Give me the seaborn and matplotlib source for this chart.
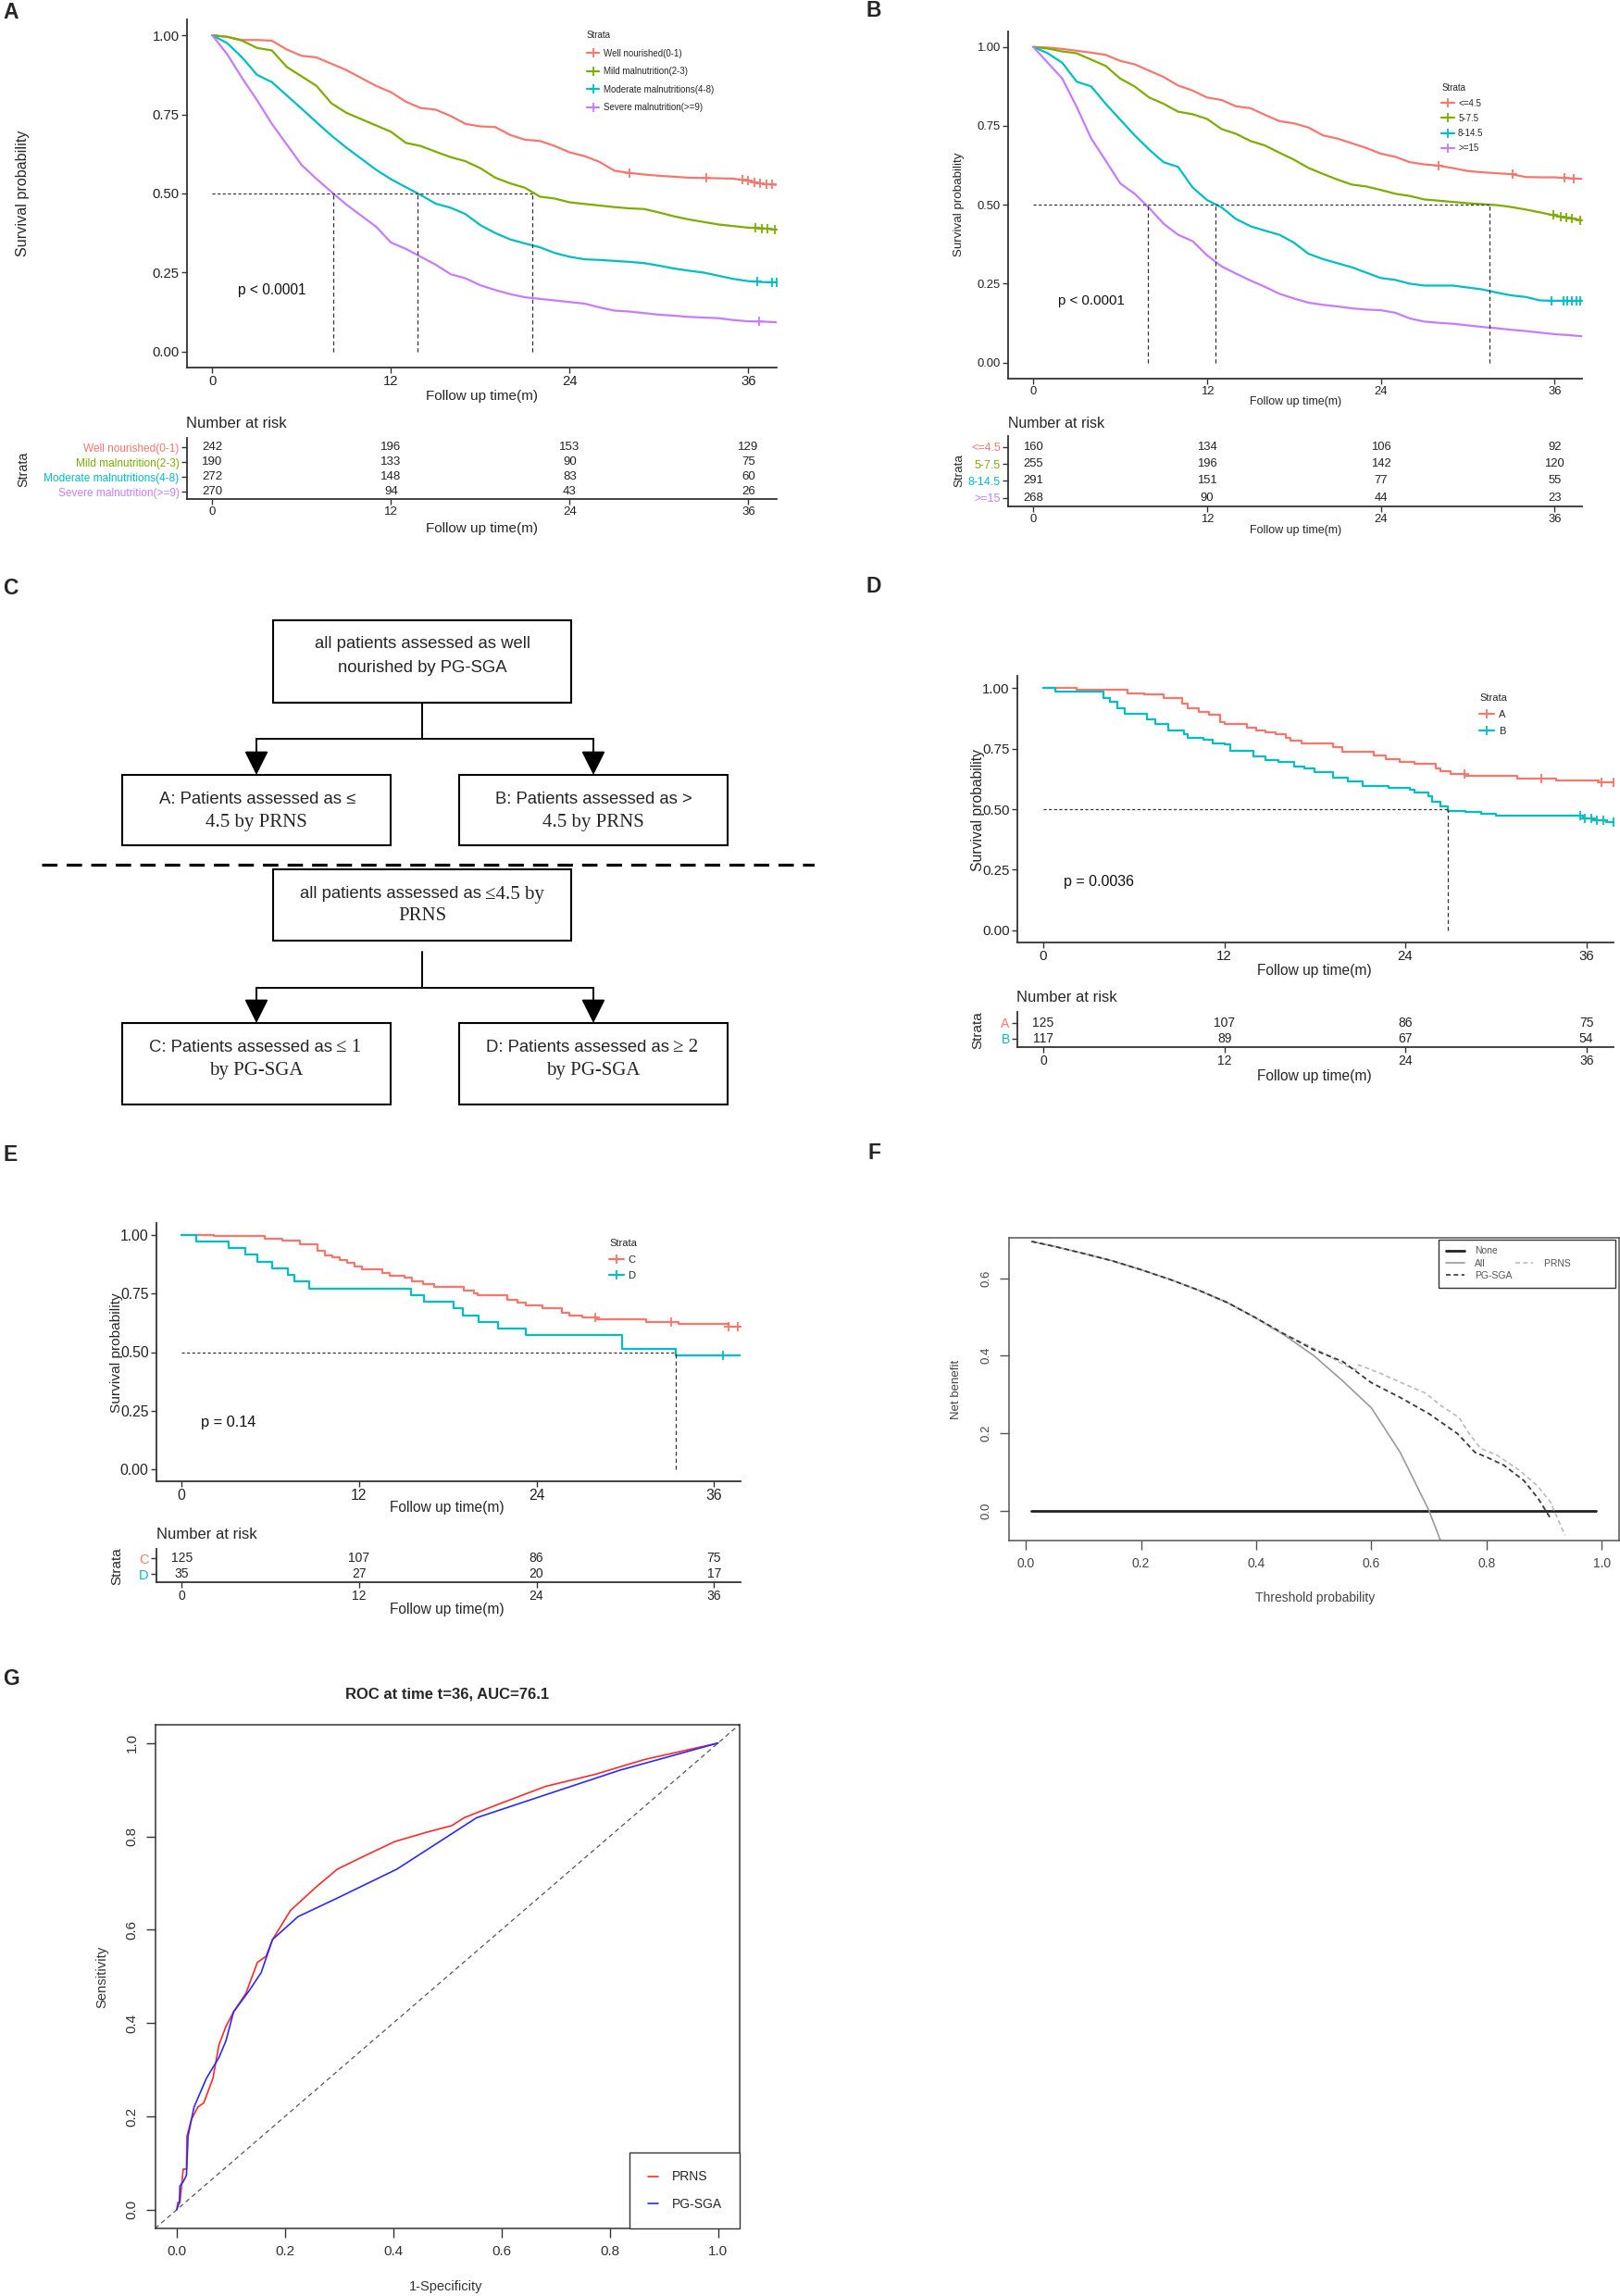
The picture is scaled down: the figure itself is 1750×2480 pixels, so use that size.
import numpy as np
import matplotlib
matplotlib.use('Agg')
import matplotlib.pyplot as plt
import seaborn as sns
from matplotlib.lines import Line2D
from matplotlib.patches import Rectangle

sns.set_style('ticks')
plt.rcParams['font.family'] = ['Liberation Sans', 'DejaVu Sans']
SERIF = ['Liberation Serif', 'DejaVu Serif']

W, H = 1750, 2480

# ---------------- data ----------------
months = np.arange(0, 39)
risk_times = [0, 12, 24, 36]
y_ticks = [0, 0.25, 0.5, 0.75, 1.0]

# A: PG-SGA groups
a_labels = ['Well nourished(0-1)', 'Mild malnutrition(2-3)',
            'Moderate malnutritions(4-8)', 'Severe malnutrition(>=9)']
a_well = [1.0, 0.995, 0.985, 0.985, 0.983, 0.955, 0.935, 0.93, 0.91, 0.89,
          0.865, 0.84, 0.82, 0.79, 0.77, 0.765, 0.745, 0.72, 0.712, 0.71,
          0.685, 0.67, 0.666, 0.65, 0.63, 0.618, 0.6, 0.572, 0.565, 0.56,
          0.556, 0.553, 0.55, 0.549, 0.548, 0.547, 0.54, 0.53, 0.527]
a_mild = [1.0, 0.995, 0.983, 0.96, 0.952, 0.9, 0.87, 0.84, 0.785, 0.755,
          0.735, 0.715, 0.695, 0.66, 0.65, 0.632, 0.615, 0.602, 0.58, 0.55,
          0.532, 0.518, 0.49, 0.484, 0.472, 0.467, 0.462, 0.457, 0.453, 0.451,
          0.44, 0.428, 0.418, 0.41, 0.402, 0.397, 0.392, 0.39, 0.385]
a_mod = [1.0, 0.975, 0.93, 0.875, 0.852, 0.81, 0.768, 0.725, 0.683, 0.645,
         0.61, 0.575, 0.545, 0.52, 0.495, 0.468, 0.455, 0.435, 0.4, 0.375,
         0.355, 0.342, 0.33, 0.312, 0.3, 0.292, 0.29, 0.287, 0.284, 0.28,
         0.272, 0.263, 0.256, 0.25, 0.24, 0.23, 0.223, 0.22, 0.22]
a_sev = [1.0, 0.94, 0.865, 0.795, 0.72, 0.655, 0.59, 0.546, 0.505, 0.465,
         0.43, 0.395, 0.345, 0.325, 0.3, 0.275, 0.245, 0.232, 0.21, 0.195,
         0.182, 0.172, 0.167, 0.162, 0.157, 0.152, 0.14, 0.13, 0.127, 0.122,
         0.117, 0.114, 0.11, 0.108, 0.106, 0.1, 0.096, 0.095, 0.093]
a_medians = [8.1, 13.8, 21.5]
a_censor = [[28.0, 33.2, 35.6, 36.0, 36.4, 36.8, 37.2, 37.6],
            [36.5, 36.9, 37.3, 37.8], [36.6, 37.6, 37.9], [36.7]]
a_risk = [[242, 196, 153, 129], [190, 133, 90, 75], [272, 148, 83, 60], [270, 94, 43, 26]]

# B: PRNS groups
b_labels = ['<=4.5', '5-7.5', '8-14.5', '>=15']
b_g1 = [1.0, 0.998, 0.994, 0.988, 0.982, 0.975, 0.956, 0.945, 0.925, 0.905,
        0.878, 0.862, 0.84, 0.832, 0.812, 0.806, 0.785, 0.765, 0.758, 0.745,
        0.72, 0.71, 0.695, 0.68, 0.662, 0.652, 0.635, 0.628, 0.624, 0.616,
        0.607, 0.603, 0.6, 0.597, 0.588, 0.587, 0.587, 0.584, 0.582]
b_g2 = [1.0, 0.995, 0.986, 0.98, 0.96, 0.94, 0.9, 0.875, 0.84, 0.82,
        0.795, 0.787, 0.772, 0.74, 0.725, 0.702, 0.688, 0.665, 0.643, 0.617,
        0.598, 0.58, 0.564, 0.558, 0.547, 0.535, 0.528, 0.517, 0.513, 0.509,
        0.505, 0.502, 0.499, 0.493, 0.485, 0.476, 0.466, 0.458, 0.45]
b_g3 = [1.0, 0.98, 0.95, 0.89, 0.875, 0.82, 0.77, 0.72, 0.675, 0.635,
        0.62, 0.555, 0.515, 0.492, 0.455, 0.432, 0.418, 0.405, 0.38, 0.345,
        0.328, 0.315, 0.302, 0.285, 0.268, 0.262, 0.25, 0.244, 0.244, 0.244,
        0.238, 0.232, 0.222, 0.213, 0.208, 0.197, 0.196, 0.196, 0.196]
b_g4 = [1.0, 0.95, 0.9, 0.81, 0.71, 0.64, 0.568, 0.535, 0.49, 0.44,
        0.405, 0.385, 0.34, 0.305, 0.282, 0.26, 0.24, 0.218, 0.203, 0.19,
        0.183, 0.178, 0.172, 0.168, 0.166, 0.158, 0.14, 0.13, 0.126, 0.123,
        0.118, 0.113, 0.109, 0.104, 0.1, 0.095, 0.09, 0.087, 0.083]
b_medians = [7.9, 12.6, 31.5]
b_censor = [[28.0, 33.1, 36.7, 37.3], [35.9, 36.4, 36.8, 37.2, 37.8],
            [35.8, 36.6, 36.9, 37.2, 37.5, 37.8], []]
b_risk = [[160, 134, 106, 92], [255, 196, 142, 120], [291, 151, 77, 55], [268, 90, 44, 23]]

# D: A vs B
d_labels = ['A', 'B']
d_a_t = [0, 2.2, 5.6, 6.7, 8.0, 9.2, 9.6, 10.3, 11.0, 11.7, 12.0, 13.5, 14.1, 14.7, 15.4, 16.1,
         16.4, 17.1, 19.2, 19.8, 21.9, 22.7, 23.6, 24.6, 26.0, 26.3, 27.0, 28.0, 31.4, 34.0, 36.8, 37.9]
d_a_s = [1.0, 0.993, 0.979, 0.972, 0.957, 0.936, 0.915, 0.9, 0.889, 0.858, 0.851, 0.837, 0.823,
         0.816, 0.809, 0.794, 0.783, 0.773, 0.755, 0.738, 0.723, 0.706, 0.695, 0.688, 0.667, 0.655,
         0.645, 0.638, 0.627, 0.62, 0.61, 0.61]
d_b_t = [0, 0.8, 4.0, 4.4, 4.9, 5.4, 6.9, 7.4, 8.3, 9.3, 9.6, 10.6, 11.2, 12.0, 12.4, 13.9, 14.7,
         15.6, 16.6, 17.3, 18.0, 19.2, 20.2, 21.2, 22.9, 24.3, 24.6, 25.5, 25.8, 26.3, 26.8, 28.0,
         29.0, 30.0, 35.8, 36.5, 37.3, 37.9]
d_b_s = [1.0, 0.986, 0.957, 0.943, 0.915, 0.894, 0.872, 0.851, 0.826, 0.811, 0.794, 0.787, 0.773,
         0.766, 0.74, 0.716, 0.702, 0.695, 0.674, 0.667, 0.652, 0.631, 0.613, 0.596, 0.589, 0.582,
         0.567, 0.553, 0.532, 0.51, 0.494, 0.489, 0.482, 0.472, 0.461, 0.454, 0.447, 0.447]
d_medians = [26.8]
d_censor = [[27.9, 33.0, 37.0, 37.8], [35.6, 35.9, 36.3, 36.7, 37.1, 37.8]]
d_risk = [[125, 107, 86, 75], [117, 89, 67, 54]]

# E: C vs D
e_labels = ['C', 'D']
e_c_t = [0, 2.2, 5.6, 6.8, 8.0, 9.2, 9.7, 10.2, 10.7, 11.2, 11.7, 12.2, 13.6, 14.1, 15.1, 15.6,
         16.3, 17.1, 19.1, 19.8, 20.0, 22.0, 22.7, 23.3, 24.4, 25.7, 26.2, 27.1, 28.1, 31.4, 33.6,
         37.0, 37.9]
e_c_s = [1.0, 0.993, 0.982, 0.974, 0.958, 0.932, 0.912, 0.903, 0.892, 0.879, 0.866, 0.853, 0.837,
         0.824, 0.816, 0.803, 0.791, 0.777, 0.761, 0.751, 0.741, 0.724, 0.709, 0.698, 0.686, 0.669,
         0.656, 0.646, 0.639, 0.627, 0.619, 0.61, 0.606]
e_d_t = [0, 1.0, 3.2, 4.3, 5.1, 6.1, 7.2, 7.6, 8.6, 15.5, 16.4, 18.4, 19.0, 20.1, 21.4, 23.3,
         29.8, 33.4, 37.9]
e_d_s = [1.0, 0.971, 0.943, 0.914, 0.886, 0.857, 0.829, 0.8, 0.771, 0.743, 0.714, 0.686, 0.657,
         0.629, 0.6, 0.571, 0.514, 0.486, 0.486]
e_medians = [33.4]
e_censor = [[28.0, 33.1, 37.0, 37.6], [36.6]]
e_risk = [[125, 107, 86, 75], [35, 27, 20, 17]]

# F: decision curve
dca_none_x = [0.01, 0.99]
dca_none_nb = [0.0, 0.0]
dca_all_x = [0.01, 0.05, 0.1, 0.15, 0.2, 0.25, 0.3, 0.35, 0.4, 0.45, 0.5, 0.55, 0.6, 0.65, 0.7, 0.72]
dca_all_nb = [0.695, 0.682, 0.664, 0.645, 0.622, 0.597, 0.569, 0.537, 0.497, 0.452, 0.4, 0.335,
              0.265, 0.15, 0.0, -0.078]
dca_pgsga_x = [0.01, 0.05, 0.1, 0.15, 0.2, 0.25, 0.3, 0.35, 0.4, 0.45, 0.5, 0.55, 0.6, 0.65,
               0.7, 0.75, 0.78, 0.8, 0.83, 0.865, 0.89, 0.91]
dca_pgsga_nb = [0.695, 0.682, 0.664, 0.645, 0.622, 0.597, 0.569, 0.537, 0.497, 0.455, 0.415,
                0.385, 0.33, 0.292, 0.25, 0.198, 0.15, 0.138, 0.117, 0.077, 0.03, -0.018]
dca_prns_x = [0.01, 0.05, 0.1, 0.15, 0.2, 0.25, 0.3, 0.35, 0.4, 0.43, 0.474, 0.519, 0.555, 0.573,
              0.578, 0.613, 0.649, 0.694, 0.72, 0.752, 0.77, 0.79, 0.817, 0.857, 0.888, 0.91, 0.936]
dca_prns_nb = [0.695, 0.682, 0.664, 0.645, 0.622, 0.597, 0.569, 0.537, 0.497, 0.468, 0.438, 0.405,
               0.374, 0.364, 0.376, 0.356, 0.332, 0.303, 0.272, 0.24, 0.198, 0.16, 0.144, 0.104,
               0.064, 0.024, -0.064]

# G: time-dependent ROC
roc_fpr_prns = [0, 0.002, 0.006, 0.009, 0.012, 0.018, 0.019, 0.027, 0.039, 0.05, 0.067, 0.078,
                0.091, 0.105, 0.128, 0.149, 0.165, 0.177, 0.21, 0.256, 0.297, 0.352, 0.403, 0.462,
                0.508, 0.531, 0.59, 0.681, 0.773, 0.865, 1.0]
roc_tpr_prns = [0, 0.016, 0.016, 0.051, 0.087, 0.087, 0.158, 0.193, 0.22, 0.229, 0.282, 0.353,
                0.393, 0.424, 0.464, 0.53, 0.543, 0.579, 0.641, 0.69, 0.73, 0.761, 0.789, 0.809,
                0.823, 0.84, 0.867, 0.907, 0.933, 0.965, 1.0]
roc_fpr_pgsga = [0, 0.005, 0.006, 0.012, 0.018, 0.021, 0.032, 0.055, 0.078, 0.091, 0.105, 0.133,
                 0.156, 0.177, 0.224, 0.297, 0.407, 0.554, 0.681, 0.819, 1.0]
roc_tpr_pgsga = [0, 0.016, 0.051, 0.06, 0.074, 0.158, 0.22, 0.282, 0.326, 0.362, 0.424, 0.468,
                 0.508, 0.579, 0.628, 0.668, 0.73, 0.84, 0.889, 0.942, 1.0]

HUE4 = ['#F8766D', '#7CAE00', '#00BFC4', '#C77CFF']
HUE2 = ['#F8766D', '#00BFC4']
INK = '#333333'

fig = plt.figure(figsize=(W / 100, H / 100), dpi=100)


def px_axes(x0, y0, x1, y1):
    return fig.add_axes([x0 / W, 1 - y1 / H, (x1 - x0) / W, (y1 - y0) / H])


def ftext(x, y, s, **kw):
    kw.setdefault('ha', 'center')
    kw.setdefault('va', 'center')
    fig.text(x / W, 1 - y / H, s, **kw)


def km_curves(ax, times, curves, colors, censors, steps):
    for t, s, c, cens in zip(times, curves, colors, censors):
        t = np.asarray(t, float)
        s = np.asarray(s, float)
        sns.lineplot(x=t, y=s, color=c, lw=1.6, estimator=None, sort=False, ax=ax,
                     drawstyle='steps-post' if steps else 'default')
        if len(cens):
            cens = np.asarray(cens, float)
            if steps:
                cy = s[np.searchsorted(t, cens, side='right') - 1]
            else:
                cy = np.interp(cens, t, s)
            ax.plot(cens, cy, ls='none', marker='+', ms=7, mew=1.3, color=c)


def median_lines(ax, medians):
    ax.hlines(0.5, 0, max(medians), colors=INK, lw=0.9, linestyles=(0, (2.5, 2)))
    ax.vlines(medians, 0, 0.5, colors=INK, lw=0.9, linestyles=(0, (3.5, 2.5)))


def style_km(ax, xlim, fs):
    ax.set_xlim(*xlim)
    ax.set_ylim(-0.05, 1.05)
    ax.set_xticks(risk_times)
    ax.set_yticks(y_ticks)
    ax.set_yticklabels([f'{v:.2f}' for v in y_ticks])
    sns.despine(ax=ax)
    for sp in ('left', 'bottom'):
        ax.spines[sp].set_color(INK)
        ax.spines[sp].set_linewidth(1.3)
    ax.tick_params(direction='out', length=4, width=1, color=INK, labelsize=fs,
                   labelcolor='#222222', pad=2)
    ax.set_xlabel('')
    ax.set_ylabel('')


def km_legend(ax, labels, colors, x, y, fs, pitch):
    fs_px = fs * 100 / 72
    hs = [Line2D([], [], color=c, lw=1.6, marker='+', ms=7, mew=1.3) for c in colors]
    leg = ax.legend(hs, labels, title='Strata', loc='upper left', bbox_to_anchor=(x, y),
                    frameon=False, fontsize=fs, title_fontsize=fs, handlelength=1.4,
                    handletextpad=0.45, labelspacing=pitch / fs_px - 1, borderpad=0,
                    borderaxespad=0)
    leg._legend_box.align = 'left'


def risk_table(ax, labels, colors, risk, xlim, ylim, fs_num, fs_lab):
    ax.set_xlim(*xlim)
    ax.set_ylim(*ylim)
    for i, row in enumerate(risk):
        for tm, n in zip(risk_times, row):
            ax.text(tm, i, str(n), ha='center', va='center', fontsize=fs_num, color='#222222')
    ax.set_xticks(risk_times)
    ax.set_yticks(range(len(labels)))
    ax.set_yticklabels(labels)
    for tl, c in zip(ax.get_yticklabels(), colors):
        tl.set_color(c)
    sns.despine(ax=ax)
    for sp in ('left', 'bottom'):
        ax.spines[sp].set_color(INK)
        ax.spines[sp].set_linewidth(1.3)
    ax.tick_params(direction='out', length=4, width=1, color=INK, pad=2)
    ax.tick_params(axis='x', labelsize=fs_num, labelcolor='#222222')
    ax.tick_params(axis='y', labelsize=fs_lab)


def km_panel(main_box, risk_box, xlim, risk_ylim, times, curves, colors, censors, steps,
             medians, labels, risk, pval, pxy, leg_xy, fs):
    ax = px_axes(*main_box)
    km_curves(ax, times, curves, colors, censors, steps)
    median_lines(ax, medians)
    style_km(ax, xlim, fs['tick'])
    ax.text(pxy[0], pxy[1], pval, ha='left', va='center', fontsize=fs['p'], color='#111111')
    km_legend(ax, labels, colors, leg_xy[0], leg_xy[1], fs['leg'], fs['pitch'])
    axr = px_axes(*risk_box)
    risk_table(axr, labels, colors, risk, xlim, risk_ylim, fs['num'], fs['row'])
    return ax, axr


# ---------------- A ----------------
fsA = dict(tick=10.7, p=11.2, leg=7, pitch=19.3, num=9.5, row=8.6)
km_panel((202, 21, 839, 397), (202, 472.7, 839, 539), (-1.7, 37.9), (3.5, -0.67),
         [months] * 4, [a_well, a_mild, a_mod, a_sev], HUE4, a_censor, False,
         a_medians, a_labels, a_risk, 'p < 0.0001', (1.7, 0.195), (0.678, 0.968), fsA)
ftext(25, 209, 'Survival probability', rotation=90, fontsize=11.6)
ftext(521, 428, 'Follow up time(m)', fontsize=11)
ftext(201, 457, 'Number at risk', ha='left', fontsize=12)
ftext(521, 571, 'Follow up time(m)', fontsize=11)
ftext(25, 507, 'Strata', rotation=90, fontsize=10.3)

# ---------------- B ----------------
fsB = dict(tick=9.4, p=10.8, leg=7, pitch=16, num=9.4, row=9)
km_panel((1089, 33.7, 1709, 408.7), (1089, 470.7, 1709, 546.7), (-1.74, 37.9), (3.49, -0.66),
         [months] * 4, [b_g1, b_g2, b_g3, b_g4], HUE4, b_censor, False,
         b_medians, b_labels, b_risk, 'p < 0.0001', (1.7, 0.195), (0.755, 0.849), fsB)
ftext(1036, 221, 'Survival probability', rotation=90, fontsize=9.6)
ftext(1400, 434, 'Follow up time(m)', fontsize=9)
ftext(1089, 458, 'Number at risk', ha='left', fontsize=11.5)
ftext(1400, 573, 'Follow up time(m)', fontsize=9)
ftext(1036, 508, 'Strata', rotation=90, fontsize=9.6)

# ---------------- D ----------------
fsD = dict(tick=10.8, p=11.5, leg=8, pitch=19.2, num=10, row=10)
km_panel((1099, 730, 1743, 1018), (1099, 1093, 1743, 1131), (-1.72, 37.8), (1.53, -0.7),
         [d_a_t, d_b_t], [d_a_s, d_b_s], HUE2, d_censor, True,
         d_medians, d_labels, d_risk, 'p = 0.0036', (1.35, 0.2), (0.775, 0.935), fsD)
ftext(1056, 875, 'Survival probability', rotation=90, fontsize=11.3)
ftext(1420, 1048, 'Follow up time(m)', fontsize=11.2)
ftext(1098, 1078, 'Number at risk', ha='left', fontsize=12)
ftext(1420, 1162, 'Follow up time(m)', fontsize=11.2)
ftext(1056, 1113, 'Strata', rotation=90, fontsize=11)

# ---------------- E ----------------
fsE = dict(tick=11.3, p=11.8, leg=8, pitch=18.6, num=10, row=10.5)
km_panel((169, 1321, 800, 1600), (169, 1673, 800, 1709), (-1.7, 37.8), (1.53, -0.59),
         [e_c_t, e_d_t], [e_c_s, e_d_s], HUE2, e_censor, True,
         e_medians, e_labels, e_risk, 'p = 0.14', (1.3, 0.2), (0.775, 0.939), fsE)
ftext(126, 1461, 'Survival probability', rotation=90, fontsize=11.1)
ftext(483, 1629, 'Follow up time(m)', fontsize=11.2)
ftext(169, 1657, 'Number at risk', ha='left', fontsize=12)
ftext(483, 1739, 'Follow up time(m)', fontsize=11.2)
ftext(126, 1692, 'Strata', rotation=90, fontsize=11)

# ---------------- C (flowchart) ----------------
axc = px_axes(0, 610, 880, 1210)
axc.set_xlim(0, 880)
axc.set_ylim(1210, 610)
axc.axis('off')
flow_boxes = [(295, 670, 617, 759), (132, 837, 422, 913), (496, 837, 786, 913),
              (295, 939, 617, 1016), (132, 1105, 422, 1193), (496, 1105, 786, 1193)]
for x0, y0, x1, y1 in flow_boxes:
    axc.add_patch(Rectangle((x0, y0), x1 - x0, y1 - y0, fill=False, ec='black', lw=1.5))
for ytop, ybar, ytip in [(759, 798, 837), (1028, 1067, 1105)]:
    axc.plot([456, 456], [ytop, ybar], color='black', lw=1.4)
    axc.plot([277, 641], [ybar, ybar], color='black', lw=1.4)
    for xa in (277, 641):
        axc.annotate('', xy=(xa, ytip), xytext=(xa, ybar),
                     arrowprops=dict(arrowstyle='-|>,head_length=0.4,head_width=0.2',
                                     mutation_scale=40, lw=1.4, color='black',
                                     shrinkA=0, shrinkB=0))
axc.plot([45, 880], [934, 934], color='black', lw=2.3, ls=(0, (5.2, 3.1)))

sans_c = dict(fontsize=13.3, va='center')
serif_c = dict(family=SERIF, fontsize=15, va='center')
axc.text(456, 696, 'all patients assessed as well', ha='center', **sans_c)
axc.text(456, 721, 'nourished by PG-SGA', ha='center', **sans_c)
axc.text(278, 864, 'A: Patients assessed as \u2264', ha='center', **sans_c)
axc.text(277, 888, '4.5 by PRNS', ha='center', **serif_c)
axc.text(641, 864, 'B: Patients assessed as >', ha='center', **sans_c)
axc.text(641, 888, '4.5 by PRNS', ha='center', **serif_c)
axc.text(520, 966, 'all patients assessed as', ha='right', **sans_c)
axc.text(524, 966, '\u22644.5 by', ha='left', **serif_c)
axc.text(456, 990, 'PRNS', ha='center', **serif_c)
axc.text(359, 1132, 'C: Patients assessed as', ha='right', **sans_c)
axc.text(363, 1132, '\u2264 1', ha='left', **serif_c)
axc.text(277, 1157, 'by PG-SGA', ha='center', **serif_c)
axc.text(723, 1132, 'D: Patients assessed as', ha='right', **sans_c)
axc.text(727, 1132, '\u2265 2', ha='left', **serif_c)
axc.text(641, 1157, 'by PG-SGA', ha='center', **serif_c)

# ---------------- F (decision curve) ----------------
axf = px_axes(1089.5, 1337, 1749, 1664)
sns.lineplot(x=dca_none_x, y=dca_none_nb, color='#222222', lw=2, estimator=None, sort=False, ax=axf)
sns.lineplot(x=dca_all_x, y=dca_all_nb, color='#9a9a9a', lw=1.2, estimator=None, sort=False, ax=axf)
sns.lineplot(x=dca_prns_x, y=dca_prns_nb, color='#bbbbbb', lw=1.2, linestyle=(0, (3, 2)),
             estimator=None, sort=False, ax=axf)
sns.lineplot(x=dca_pgsga_x, y=dca_pgsga_nb, color='#3a3a3a', lw=1.3, linestyle=(0, (3, 2)),
             estimator=None, sort=False, ax=axf)
axf.set_xlim(-0.03, 1.03)
axf.set_ylim(-0.0775, 0.7044)
f_xt = np.arange(0, 1.01, 0.2)
axf.set_xticks(f_xt)
axf.set_xticklabels([f'{v:.1f}' for v in f_xt])
axf.set_yticks([0, 0.2, 0.4, 0.6])
axf.set_yticklabels(['0.0', '0.2', '0.4', '0.6'])
for sp in axf.spines.values():
    sp.set_visible(True)
    sp.set_color('#555555')
    sp.set_linewidth(1.1)
axf.tick_params(direction='out', length=7, width=1, color='#555555', labelsize=10,
                labelcolor='#444444', pad=6)
for tl in axf.get_yticklabels():
    tl.set_rotation(90)
    tl.set_va('center')
    tl.set_fontsize(9.5)
axf.set_xlabel('')
axf.set_ylabel('')
blank = Line2D([], [], alpha=0)
f_handles = [Line2D([], [], color='#222222', lw=2), Line2D([], [], color='#9a9a9a', lw=1.2),
             Line2D([], [], color='#3a3a3a', lw=1.2, ls=(0, (3, 2))), blank,
             Line2D([], [], color='#bbbbbb', lw=1.2, ls=(0, (3, 2))), blank]
axf.legend(f_handles, ['None', 'All', 'PG-SGA', '', 'PRNS' + ' ' * 14, ''], ncol=2,
           loc='upper left', bbox_to_anchor=((1554 - 1089.5) / 659.5, 0.995), borderaxespad=0,
           frameon=True, fancybox=False, edgecolor='#333333', framealpha=1, fontsize=7.5,
           labelcolor='#555555', handlelength=1.9, handletextpad=1.1, labelspacing=0.3,
           columnspacing=0.3, borderpad=0.75)
ftext(1421, 1726, 'Threshold probability', fontsize=10, color='#444444')
ftext(1033, 1501, 'Net benefit', rotation=90, fontsize=9.5, color='#444444')

# ---------------- G (ROC) ----------------
axg = px_axes(167.5, 1862.6, 799, 2407)
axg.axline((0, 0), slope=1, color='#555555', lw=0.9, ls=(0, (4, 3)))
sns.lineplot(x=roc_fpr_prns, y=roc_tpr_prns, color='#FF2A2A', lw=1.2, estimator=None,
             sort=False, ax=axg, label='PRNS')
sns.lineplot(x=roc_fpr_pgsga, y=roc_tpr_pgsga, color='#2A2AFF', lw=1.2, estimator=None,
             sort=False, ax=axg, label='PG-SGA')
axg.set_xlim(-0.04, 1.04)
axg.set_ylim(-0.04, 1.04)
g_ticks = np.arange(0, 1.01, 0.2)
axg.set_xticks(g_ticks)
axg.set_xticklabels([f'{v:.1f}' for v in g_ticks])
axg.set_yticks(g_ticks)
axg.set_yticklabels([f'{v:.1f}' for v in g_ticks])
for sp in axg.spines.values():
    sp.set_visible(True)
    sp.set_color('#333333')
    sp.set_linewidth(1.1)
axg.tick_params(direction='out', length=7, width=1, color='#333333', labelsize=11,
                labelcolor='#333333', pad=6)
for tl in axg.get_yticklabels():
    tl.set_rotation(90)
    tl.set_va('center')
axg.set_xlabel('')
axg.set_ylabel('')
axg.legend(loc='lower right', borderaxespad=0, frameon=True, fancybox=False,
           edgecolor='#333333', framealpha=1, fontsize=10, handlelength=0.8,
           handletextpad=1.05, borderpad=1.4, labelspacing=1.09)
axg.set_title('ROC at time t=36, AUC=76.1', fontweight='bold', fontsize=12, pad=20)
ftext(481.5, 2470, '1-Specificity', fontsize=10.5, color='#333333')
ftext(110, 2135, 'Sensitivity', rotation=90, fontsize=10.7, color='#333333')

# ---------------- panel letters ----------------
for letter, (lx, ly) in zip('ABCDEFG', [(12, 13), (944, 12), (11, 635), (944, 634),
                                        (11, 1247), (944, 1246), (12, 1813)]):
    ftext(lx, ly, letter, fontsize=16.5, fontweight='bold')

fig.savefig('out.png', dpi=100, facecolor='white')
